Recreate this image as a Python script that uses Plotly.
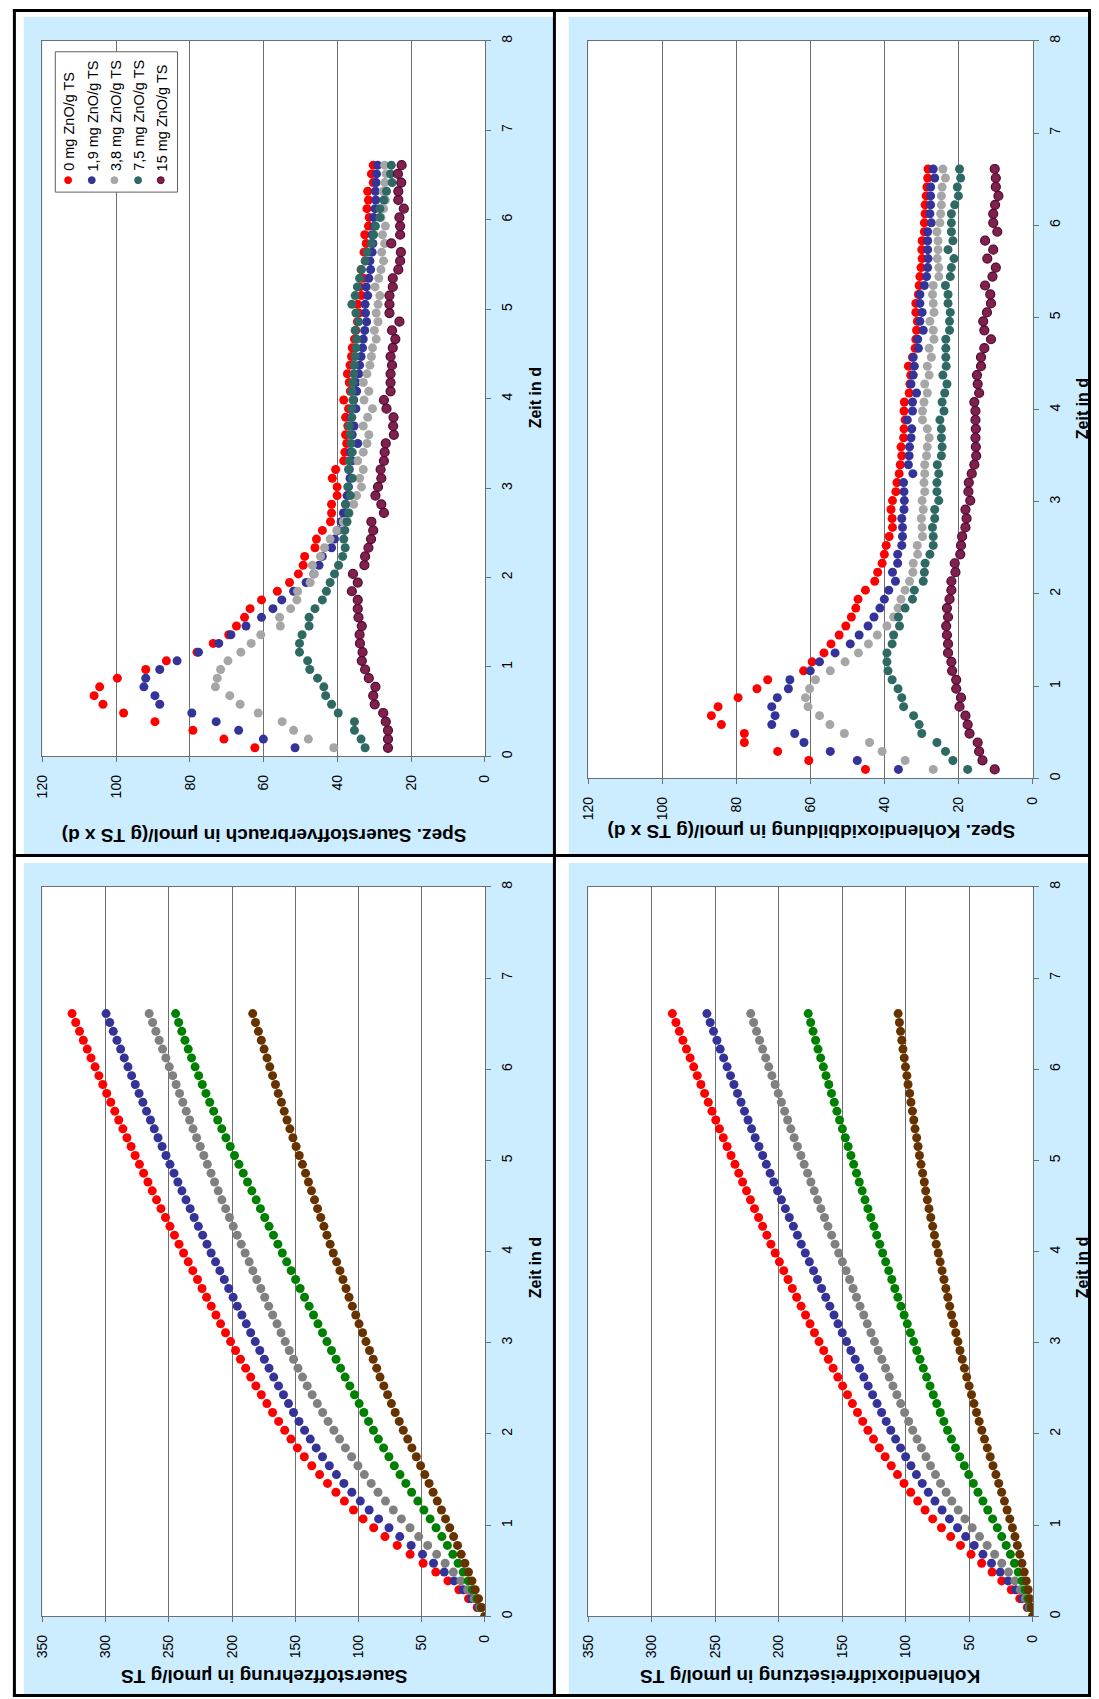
import plotly.graph_objects as go

W, H = 1099, 1699

# ---------------- data ----------------
# measurement times in days (every 140 min)
t_rate = [0.097, 0.194, 0.292, 0.389, 0.486, 0.583, 0.680, 0.778, 0.875, 0.972,
          1.069, 1.166, 1.264, 1.361, 1.458, 1.555, 1.652, 1.750, 1.847, 1.944,
          2.041, 2.138, 2.236, 2.333, 2.430, 2.527, 2.624, 2.722, 2.819, 2.916,
          3.013, 3.110, 3.208, 3.305, 3.402, 3.499, 3.596, 3.694, 3.791, 3.888,
          3.985, 4.082, 4.180, 4.277, 4.374, 4.471, 4.568, 4.666, 4.763, 4.860,
          4.957, 5.054, 5.152, 5.249, 5.346, 5.443, 5.540, 5.638, 5.735, 5.832,
          5.929, 6.026, 6.124, 6.221, 6.318, 6.415, 6.512, 6.610]
t_cum = [0.0] + t_rate

series_names = ["0 mg ZnO/g TS", "1,9 mg ZnO/g TS", "3,8 mg ZnO/g TS",
                "7,5 mg ZnO/g TS", "15 mg ZnO/g TS"]

# Spez. Sauerstoffverbrauch (umol/(g TS x d))
o2_rate_0 = [62.4, 70.8, 79.2, 89.5, 98.0, 103.6, 106.0, 104.5, 99.7, 92.0, 86.4, 78.1, 73.7, 69.5, 67.4, 65.2, 63.7, 60.6, 56.3, 53.0, 50.6, 49.3, 48.9,
             46.1, 45.7, 44.1, 41.9, 41.6, 41.6, 40.1, 40.1, 41.4, 40.5, 38.3, 38.0, 37.5, 37.8, 37.2, 37.8, 37.0, 38.3, 36.5, 36.8, 37.3, 36.6, 36.2,
             36.0, 35.4, 35.0, 34.6, 34.2, 34.5, 33.5, 33.9, 33.0, 33.6, 32.4, 32.8, 32.2, 32.6, 31.6, 31.4, 32.0, 31.6, 31.8, 30.3, 30.8, 30.3]
o2_rate_19 = [51.5, 60.1, 66.8, 72.9, 79.5, 88.2, 89.5, 92.5, 92.0, 88.2, 83.5, 77.7, 72.2, 68.9, 64.8, 60.6, 57.5, 55.1, 51.9, 48.5, 46.4, 45.0, 44.1,
              41.6, 40.8, 39.8, 39.0, 38.4, 37.8, 37.4, 37.0, 36.6, 36.8, 36.0, 36.5, 34.5, 36.0, 35.5, 36.3, 35.0, 35.6, 34.8, 35.0, 34.2, 34.0, 33.6,
              33.2, 33.0, 32.6, 32.1, 32.4, 32.5, 31.8, 32.2, 31.5, 31.0, 31.2, 30.6, 30.4, 30.6, 30.0, 30.2, 29.8, 29.6, 29.7, 29.5, 29.4, 29.1]
o2_rate_38 = [41.0, 47.9, 51.9, 55.0, 61.5, 66.4, 69.2, 73.1, 72.6, 71.7, 69.7, 66.2, 63.4, 60.8, 55.5, 55.7, 52.7, 51.0, 50.8, 47.4, 46.3, 46.8, 44.6,
              43.5, 42.0, 40.2, 38.4, 36.8, 35.6, 34.8, 33.5, 34.0, 33.0, 34.5, 33.0, 32.0, 31.5, 33.0, 31.8, 30.5, 32.8, 31.5, 33.0, 32.0, 31.2, 30.8,
              30.5, 29.5, 30.0, 29.0, 29.5, 29.0, 28.5, 29.8, 28.8, 28.2, 27.5, 28.0, 27.2, 27.8, 27.0, 28.2, 27.5, 27.0, 27.6, 27.2, 26.8, 27.2]
o2_rate_75 = [32.5, 33.6, 35.4, 35.4, 39.8, 41.6, 43.2, 43.7, 45.4, 47.5, 48.1, 50.3, 50.3, 49.6, 47.7, 47.7, 46.1, 44.1, 43.0, 42.0, 40.8, 39.7, 38.6,
              37.9, 38.3, 38.0, 37.4, 37.0, 37.8, 36.5, 37.2, 36.0, 37.0, 36.8, 36.0, 36.3, 36.5, 36.8, 36.1, 36.1, 35.8, 36.1, 35.8, 35.6, 35.5, 35.2,
              35.0, 34.8, 35.2, 34.3, 35.0, 36.1, 35.2, 34.6, 34.0, 33.5, 32.5, 32.0, 30.8, 30.2, 29.7, 28.5, 28.5, 27.4, 26.7, 25.2, 25.6, 25.4]
o2_rate_150 = [26.3, 26.3, 26.3, 26.9, 27.6, 29.9, 30.3, 29.7, 31.5, 32.5, 33.4, 33.2, 33.9, 34.0, 33.4, 34.3, 34.5, 34.5, 36.1, 34.5, 35.8, 32.7, 32.5,
               31.6, 30.9, 30.3, 30.8, 27.4, 28.1, 29.7, 29.0, 28.1, 28.3, 27.4, 27.2, 26.9, 24.7, 24.9, 24.8, 26.7, 27.4, 25.6, 25.6, 25.6, 25.2, 25.6,
               25.0, 24.3, 25.2, 23.2, 25.9, 25.9, 25.9, 25.0, 25.0, 23.5, 23.0, 22.8, 25.4, 23.0, 23.0, 23.2, 22.0, 23.5, 23.5, 22.7, 23.6, 22.6]

# Spez. Kohlendioxidbildung (umol/(g TS x d))
co2_rate_0 = [45.2, 60.5, 68.9, 77.9, 77.9, 84.1, 86.8, 85.0, 79.6, 74.5, 71.6, 61.9, 59.6, 56.4, 54.5, 52.3, 50.5, 49.0, 47.8, 47.2, 45.2, 42.7, 41.9,
              40.7, 40.1, 39.6, 38.8, 37.9, 38.0, 38.3, 37.9, 37.0, 36.7, 36.1, 35.8, 35.4, 35.6, 34.9, 34.8, 34.5, 34.8, 34.7, 33.4, 33.2, 33.0, 33.6,
              32.5, 31.8, 31.6, 31.4, 31.2, 31.6, 31.6, 30.9, 30.7, 30.5, 30.2, 29.9, 30.0, 29.9, 29.3, 29.3, 29.1, 29.1, 28.8, 28.6, 28.4, 28.3]
co2_rate_19 = [36.3, 47.4, 54.7, 61.8, 64.3, 70.5, 69.6, 70.5, 69.0, 66.0, 65.6, 60.1, 57.6, 53.4, 49.3, 46.9, 44.5, 42.9, 41.3, 40.1, 38.9, 37.1, 37.9,
               36.5, 36.5, 35.4, 35.2, 35.2, 35.4, 34.8, 34.7, 34.8, 34.9, 32.4, 33.6, 33.4, 33.3, 32.9, 32.7, 33.9, 32.5, 32.5, 31.4, 32.9, 32.3, 32.0,
               32.3, 30.9, 31.1, 29.6, 30.5, 29.9, 30.5, 30.5, 29.3, 28.7, 28.4, 28.3, 28.4, 28.4, 28.4, 27.4, 27.8, 27.6, 27.6, 27.6, 26.5, 26.9]
co2_rate_38 = [26.9, 34.5, 40.7, 44.1, 50.9, 54.8, 57.6, 60.7, 61.4, 60.3, 58.7, 54.7, 50.7, 47.1, 44.4, 42.0, 39.4, 37.6, 36.4, 35.6, 34.5, 33.3, 32.4,
               32.3, 31.1, 31.2, 29.8, 29.9, 30.1, 29.6, 29.9, 29.2, 29.4, 29.2, 29.2, 28.7, 28.5, 28.0, 28.5, 29.8, 29.8, 29.4, 28.5, 29.2, 28.0, 28.5,
               27.4, 28.0, 26.7, 26.9, 27.8, 26.7, 26.9, 27.1, 26.9, 25.4, 25.4, 25.8, 25.6, 25.6, 25.9, 25.1, 24.9, 24.7, 24.7, 24.5, 23.6, 24.3]
co2_rate_75 = [17.6, 21.6, 23.6, 25.9, 30.0, 30.7, 32.2, 34.9, 35.4, 36.4, 38.0, 39.1, 39.4, 39.4, 38.0, 37.6, 36.0, 36.3, 34.5, 32.5, 32.0, 29.6, 29.3,
               29.1, 27.8, 26.9, 26.9, 27.1, 26.5, 26.5, 25.4, 25.9, 25.9, 25.4, 25.8, 24.7, 24.5, 24.7, 24.7, 25.1, 24.0, 24.5, 23.8, 23.2, 24.3, 23.4,
               23.5, 23.5, 23.5, 22.5, 22.5, 22.3, 22.9, 22.9, 23.6, 22.3, 22.0, 21.3, 22.9, 21.6, 22.0, 22.0, 22.0, 21.1, 20.1, 20.4, 19.5, 19.8]
co2_rate_150 = [10.3, 13.6, 14.5, 14.9, 17.1, 17.6, 18.2, 19.8, 19.4, 20.7, 20.7, 21.8, 22.0, 22.9, 22.9, 23.2, 23.4, 22.9, 23.2, 22.5, 22.0, 22.0, 20.9,
                21.1, 19.6, 19.4, 19.1, 18.2, 17.9, 18.2, 16.9, 17.4, 17.3, 16.5, 15.8, 15.3, 15.4, 15.5, 15.4, 15.5, 15.5, 15.8, 14.5, 14.9, 15.1, 14.0,
                14.0, 13.1, 11.3, 13.1, 13.4, 12.4, 11.3, 11.5, 12.9, 10.9, 10.0, 12.3, 10.7, 12.9, 9.6, 10.7, 10.7, 10.2, 9.3, 10.0, 10.0, 10.3]

# Sauerstoffzehrung (umol/g TS)
o2_cum_0 = [0, 6.1, 13.0, 20.6, 29.3, 38.9, 48.9, 59.2, 69.4, 79.1, 88.0, 96.4, 104.0, 111.2, 117.9, 124.5, 130.8, 137.0, 142.9, 148.4, 153.5, 158.4, 163.2, 168.0,
            172.5, 176.9, 181.2, 185.3, 189.3, 193.4, 197.3, 201.2, 205.2, 209.1, 212.8, 216.5, 220.2, 223.8, 227.4, 231.1, 234.7, 238.4, 242.0, 245.6, 249.2, 252.7, 256.3,
            259.8, 263.2, 266.6, 270.0, 273.3, 276.7, 279.9, 283.2, 286.4, 289.7, 292.8, 296.0, 299.2, 302.3, 305.4, 308.4, 311.6, 314.6, 317.7, 320.7, 323.7, 326.6]
o2_cum_19 = [0, 5.0, 10.8, 17.3, 24.4, 32.2, 40.7, 49.4, 58.4, 67.4, 75.9, 84.1, 91.6, 98.6, 105.3, 111.6, 117.5, 123.1, 128.5, 133.5, 138.2, 142.7, 147.1, 151.4,
             155.4, 159.4, 163.3, 167.1, 170.8, 174.5, 178.1, 181.7, 185.3, 188.8, 192.3, 195.9, 199.2, 202.7, 206.2, 209.7, 213.1, 216.6, 219.9, 223.3, 226.7, 230.0, 233.2,
             236.5, 239.7, 242.9, 246.0, 249.2, 252.3, 255.4, 258.6, 261.6, 264.6, 267.7, 270.6, 273.6, 276.6, 279.5, 282.4, 285.3, 288.2, 291.1, 294.0, 296.8, 299.7]
o2_cum_38 = [0, 4.0, 8.6, 13.7, 19.0, 25.0, 31.5, 38.2, 45.3, 52.4, 59.3, 66.1, 72.5, 78.7, 84.6, 90.0, 95.4, 100.5, 105.5, 110.4, 115.0, 119.5, 124.1, 128.4,
             132.6, 136.7, 140.6, 144.3, 147.9, 151.4, 154.8, 158.0, 161.3, 164.5, 167.9, 171.1, 174.2, 177.3, 180.5, 183.6, 186.5, 189.7, 192.8, 196.0, 199.1, 202.1, 205.1,
             208.1, 211.0, 213.9, 216.7, 219.6, 222.4, 225.2, 228.1, 230.9, 233.6, 236.3, 239.0, 241.6, 244.3, 247.0, 249.7, 252.4, 255.0, 257.7, 260.3, 262.9, 265.6]
o2_cum_75 = [0, 3.2, 6.4, 9.9, 13.3, 17.2, 21.2, 25.4, 29.7, 34.1, 38.7, 43.4, 48.3, 53.1, 58.0, 62.6, 67.2, 71.7, 76.0, 80.2, 84.3, 88.2, 92.1, 95.8,
             99.5, 103.2, 106.9, 110.6, 114.2, 117.8, 121.4, 125.0, 128.5, 132.1, 135.6, 139.1, 142.7, 146.2, 149.8, 153.3, 156.8, 160.3, 163.8, 167.3, 170.8, 174.2, 177.6,
             181.0, 184.4, 187.8, 191.2, 194.6, 198.1, 201.5, 204.9, 208.2, 211.4, 214.6, 217.7, 220.7, 223.6, 226.5, 229.3, 232.1, 234.7, 237.3, 239.8, 242.3, 244.7]
o2_cum_150 = [0, 2.6, 5.1, 7.7, 10.3, 13.0, 15.9, 18.8, 21.7, 24.8, 27.9, 31.2, 34.4, 37.7, 41.0, 44.2, 47.6, 50.9, 54.3, 57.8, 61.1, 64.6, 67.8, 71.0,
              74.0, 77.0, 80.0, 83.0, 85.6, 88.4, 91.3, 94.1, 96.8, 99.6, 102.2, 104.9, 107.5, 109.9, 112.3, 114.7, 117.3, 120.0, 122.5, 125.0, 127.4, 129.9, 132.4,
              134.8, 137.2, 139.6, 141.9, 144.4, 146.9, 149.4, 151.9, 154.3, 156.6, 158.8, 161.0, 163.5, 165.7, 168.0, 170.2, 172.4, 174.7, 176.9, 179.2, 181.5, 183.7]

# Kohlendioxidfreisetzung (umol/g TS)
co2_cum_0 = [0, 4.4, 10.3, 17.0, 24.5, 32.1, 40.3, 48.7, 57.0, 64.7, 72.0, 78.9, 84.9, 90.7, 96.2, 101.5, 106.6, 111.5, 116.3, 120.9, 125.5, 129.9, 134.0, 138.1,
             142.1, 146.0, 149.8, 153.6, 157.3, 161.0, 164.7, 168.4, 172.0, 175.5, 179.0, 182.5, 186.0, 189.4, 192.8, 196.2, 199.6, 202.9, 206.3, 209.5, 212.8, 216.0, 219.2,
             222.4, 225.5, 228.6, 231.6, 234.6, 237.7, 240.8, 243.8, 246.8, 249.7, 252.7, 255.6, 258.5, 261.4, 264.3, 267.1, 269.9, 272.8, 275.6, 278.4, 281.1, 283.9]
co2_cum_19 = [0, 3.5, 8.1, 13.5, 19.5, 25.7, 32.6, 39.3, 46.2, 52.9, 59.3, 65.7, 71.5, 77.1, 82.3, 87.1, 91.7, 96.0, 100.2, 104.2, 108.1, 111.9, 115.5, 119.1,
              122.7, 126.2, 129.7, 133.1, 136.5, 139.9, 143.3, 146.7, 150.1, 153.5, 156.6, 159.9, 163.1, 166.4, 169.6, 172.7, 176.0, 179.2, 182.4, 185.4, 188.6, 191.8, 194.9,
              198.0, 201.0, 204.0, 206.9, 209.9, 212.8, 215.7, 218.7, 221.5, 224.3, 227.1, 229.8, 232.6, 235.4, 238.1, 240.8, 243.5, 246.2, 248.8, 251.5, 254.1, 256.7]
co2_cum_38 = [0, 2.6, 6.0, 9.9, 14.2, 19.2, 24.5, 30.1, 36.0, 42.0, 47.8, 53.5, 58.8, 63.8, 68.3, 72.7, 76.7, 80.6, 84.2, 87.8, 91.2, 94.6, 97.8, 101.0,
              104.1, 107.1, 110.2, 113.1, 116.0, 118.9, 121.8, 124.7, 127.5, 130.4, 133.2, 136.1, 138.9, 141.6, 144.3, 147.1, 150.0, 152.9, 155.8, 158.5, 161.4, 164.1, 166.9,
              169.5, 172.2, 174.8, 177.4, 180.1, 182.7, 185.4, 188.0, 190.6, 193.1, 195.5, 198.0, 200.5, 203.0, 205.5, 208.0, 210.4, 212.8, 215.2, 217.6, 219.9, 222.2]
co2_cum_75 = [0, 1.7, 3.8, 6.1, 8.6, 11.5, 14.5, 17.7, 21.0, 24.5, 28.0, 31.7, 35.5, 39.3, 43.2, 46.9, 50.5, 54.0, 57.6, 60.9, 64.1, 67.2, 70.1, 72.9,
              75.7, 78.4, 81.0, 83.7, 86.3, 88.9, 91.4, 93.9, 96.4, 98.9, 101.4, 103.9, 106.3, 108.7, 111.1, 113.5, 115.9, 118.3, 120.6, 123.0, 125.2, 127.6, 129.9,
              132.2, 134.4, 136.7, 138.9, 141.1, 143.3, 145.5, 147.7, 150.0, 152.2, 154.3, 156.4, 158.6, 160.7, 162.9, 165.0, 167.1, 169.2, 171.1, 173.1, 175.0, 176.9]
co2_cum_150 = [0, 1.0, 2.3, 3.7, 5.2, 6.8, 8.6, 10.3, 12.2, 14.1, 16.1, 18.2, 20.3, 22.4, 24.6, 26.9, 29.1, 31.4, 33.6, 35.9, 38.1, 40.2, 42.3, 44.4,
               46.4, 48.3, 50.2, 52.1, 53.9, 55.6, 57.4, 59.0, 60.7, 62.4, 64.0, 65.5, 67.0, 68.5, 70.0, 71.5, 73.0, 74.5, 76.1, 77.5, 78.9, 80.4, 81.8,
               83.1, 84.4, 85.5, 86.8, 88.1, 89.3, 90.4, 91.5, 92.8, 93.8, 94.8, 96.0, 97.0, 98.3, 99.2, 100.3, 101.3, 102.3, 103.2, 104.2, 105.1, 106.1]

rate_ticks = [0, 20, 40, 60, 80, 100, 120]
cum_ticks = [0, 50, 100, 150, 200, 250, 300, 350]
time_ticks = [0, 1, 2, 3, 4, 5, 6, 7, 8]

# sanity check on lengths
for name, arr, n in [("o2_rate_0", o2_rate_0, 68), ("o2_rate_19", o2_rate_19, 68), ("o2_rate_38", o2_rate_38, 68),
                     ("o2_rate_75", o2_rate_75, 68), ("o2_rate_150", o2_rate_150, 68),
                     ("co2_rate_0", co2_rate_0, 68), ("co2_rate_19", co2_rate_19, 68), ("co2_rate_38", co2_rate_38, 68),
                     ("co2_rate_75", co2_rate_75, 68), ("co2_rate_150", co2_rate_150, 68),
                     ("o2_cum_0", o2_cum_0, 69), ("o2_cum_19", o2_cum_19, 69), ("o2_cum_38", o2_cum_38, 69),
                     ("o2_cum_75", o2_cum_75, 69), ("o2_cum_150", o2_cum_150, 69),
                     ("co2_cum_0", co2_cum_0, 69), ("co2_cum_19", co2_cum_19, 69), ("co2_cum_38", co2_cum_38, 69),
                     ("co2_cum_75", co2_cum_75, 69), ("co2_cum_150", co2_cum_150, 69)]:
    if len(arr) != n:
        raise ValueError(f"{name} has {len(arr)} values, expected {n}")

# ---------------- styling ----------------
rate_colors = ["#FF0000", "#333399", "#A6A6A6", "#2F6964", "#80204F"]
rate_lines = ["#FF0000", "#333399", "#A6A6A6", "#2F6964", "#4F0A2C"]
cum_colors = ["#FF0000", "#333399", "#808080", "#008000", "#663300"]
PANEL = "#CCECFF"
GRID = "#6E6E6E"
FONT = "Liberation Sans, Arial, sans-serif"


def px(x):
    return x / W


def py(y):
    return 1 - y / H


# plot areas in pixels: (left, right, top, bottom)
areas = {
    "tl": (35, 484, 35, 754),
    "tr": (589, 1040, 35, 776),
    "bl": (35, 484, 885, 1618),
    "br": (589, 1040, 885, 1618),
}

fig = go.Figure()

panels = [
    ("tl", "x", "y", t_rate, [o2_rate_0, o2_rate_19, o2_rate_38, o2_rate_75, o2_rate_150], rate_colors, rate_lines),
    ("tr", "x2", "y2", t_rate, [co2_rate_0, co2_rate_19, co2_rate_38, co2_rate_75, co2_rate_150], rate_colors, rate_lines),
    ("bl", "x3", "y3", t_cum, [o2_cum_0, o2_cum_19, o2_cum_38, o2_cum_75, o2_cum_150], cum_colors, cum_colors),
    ("br", "x4", "y4", t_cum, [co2_cum_0, co2_cum_19, co2_cum_38, co2_cum_75, co2_cum_150], cum_colors, cum_colors),
]

for key, xa, ya, tt, data, cols, lcols in panels:
    for i, vals in enumerate(data):
        fig.add_trace(go.Scatter(
            x=vals, y=tt, xaxis=xa, yaxis=ya, mode="markers",
            name=series_names[i], showlegend=False,
            marker=dict(size=9, color=cols[i],
                        line=dict(color=lcols[i], width=1.2 if lcols[i] != cols[i] else 0)),
            hoverinfo="skip"))

layout_axes = {}
names = [("xaxis", "yaxis"), ("xaxis2", "yaxis2"), ("xaxis3", "yaxis3"), ("xaxis4", "yaxis4")]
anchors = [("x", "y"), ("x2", "y2"), ("x3", "y3"), ("x4", "y4")]
for (key, *_), (xn, yn), (xa, ya) in zip(panels, names, anchors):
    l, r, t, b = areas[key]
    is_rate = key in ("tl", "tr")
    layout_axes[xn] = dict(
        domain=[px(l), px(r)], anchor=ya,
        range=[120, 0] if is_rate else [350, 0],
        tickvals=rate_ticks if is_rate else cum_ticks,
        showgrid=True, gridcolor=GRID, gridwidth=1,
        showline=True, linecolor=GRID, linewidth=1, mirror=True,
        ticks="outside", ticklen=5, tickcolor=GRID, tickwidth=1,
        tickangle=-90, ticklabelstandoff=7,
        tickfont=dict(family=FONT, size=14, color="black"),
        zeroline=False, fixedrange=True)
    layout_axes[yn] = dict(
        domain=[py(b), py(t)], anchor=xa, side="right",
        range=[0, 8], tickvals=time_ticks,
        showgrid=False, showline=True, linecolor=GRID, linewidth=1, mirror=True,
        ticks="outside", ticklen=5, tickcolor=GRID, tickwidth=1,
        tickangle=-90, ticklabelstandoff=4,
        tickfont=dict(family=FONT, size=14, color="black"),
        zeroline=False, fixedrange=True)

shapes = []
# light-blue panels
for (x0, y0, x1, y1) in [(16, 11, 554, 852), (569, 11, 1097, 852),
                         (16, 861, 554, 1697), (569, 861, 1097, 1697)]:
    shapes.append(dict(type="rect", xref="paper", yref="paper", layer="below",
                       x0=px(x0), x1=px(x1), y0=py(y1), y1=py(y0),
                       fillcolor=PANEL, line=dict(width=0)))
# white plot areas
for key, (l, r, t, b) in areas.items():
    shapes.append(dict(type="rect", xref="paper", yref="paper", layer="below",
                       x0=px(l), x1=px(r), y0=py(b), y1=py(t),
                       fillcolor="white", line=dict(width=0)))
# black table lines
for x in (6.5, 554.5, 1097.5):
    shapes.append(dict(type="line", xref="paper", yref="paper",
                       x0=px(x), x1=px(x), y0=py(3), y1=py(1698),
                       line=dict(color="black", width=3)))
for y in (4.5, 853.5, 1697.5):
    shapes.append(dict(type="line", xref="paper", yref="paper",
                       x0=px(5), x1=px(1099), y0=py(y), y1=py(y),
                       line=dict(color="black", width=3)))

# legend box (rotated legend) in top-left chart
shapes.append(dict(type="rect", xref="paper", yref="paper",
                   x0=px(48), x1=px(172), y0=py(187), y1=py(46),
                   fillcolor="white", line=dict(color="#606060", width=1)))
leg_x = [61, 85, 108, 132, 155]
annotations = []
for i, lx in enumerate(leg_x):
    shapes.append(dict(type="circle", xref="paper", yref="paper",
                       x0=px(lx - 3.5), x1=px(lx + 3.5), y0=py(178.5), y1=py(171.5),
                       fillcolor=rate_colors[i], line=dict(color=rate_lines[i], width=1)))
    annotations.append(dict(xref="paper", yref="paper", x=px(lx + 1), y=py(168),
                            xanchor="center", yanchor="bottom", showarrow=False,
                            textangle=-90, text=series_names[i],
                            font=dict(family=FONT, size=14.5, color="black")))

# axis titles
titles = [
    ("Spez. Sauerstoffverbrauch in µmol/(g TS x d)", 260, 834, 180, 19),
    ("Spez. Kohlendioxidbildung in µmol/(g TS x d)", 815, 830, 180, 19),
    ("Sauerstoffzehrung in µmol/g TS", 260, 1679, 180, 19),
    ("Kohlendioxidfreisetzung in µmol/g TS", 814, 1679, 180, 19),
    ("Zeit in d", 535, 394, -90, 16),
    ("Zeit in d", 1090, 405, -90, 16),
    ("Zeit in d", 535, 1268, -90, 16),
    ("Zeit in d", 1090, 1268, -90, 16),
]
for text, x, y, ang, fs in titles:
    annotations.append(dict(xref="paper", yref="paper", x=px(x), y=py(y),
                            xanchor="center", yanchor="middle", showarrow=False,
                            textangle=ang, text="<b>" + text + "</b>",
                            font=dict(family=FONT, size=fs, color="black")))

fig.update_layout(
    width=W, height=H, margin=dict(l=0, r=0, t=0, b=0),
    paper_bgcolor="white", plot_bgcolor="white",
    showlegend=False, shapes=shapes, annotations=annotations,
    **layout_axes)

fig.write_html("out.html")
